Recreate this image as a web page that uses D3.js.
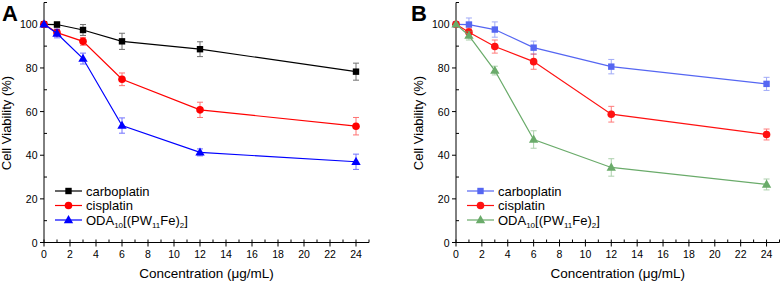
<!DOCTYPE html>
<html>
<head>
<meta charset="utf-8">
<script src="https://cdn.jsdelivr.net/npm/d3@7"></script>
<style>
  body { margin: 0; background: #fff; }
  svg text { font-family: "Liberation Sans", Arial, sans-serif; }
</style>
</head>
<body>
<div id="svgContainer"></div>
<script>
// concentrations (ug/mL)
var conc = [0, 1, 3, 6, 12, 24];

// panel A
var carboA = [100, 99.9, 97.4, 92.2, 88.6, 78.3];
var carboAErr = [0, 1.2, 2.5, 3.7, 3.4, 3.9];
var cisA = [100, 96.2, 92.2, 74.8, 60.8, 53.3];
var cisAErr = [0, 1.5, 1.8, 2.9, 3.5, 4.0];
var odaA = [100, 95.8, 84.3, 53.6, 41.3, 37.0];
var odaAErr = [0, 2.0, 2.5, 3.5, 1.6, 3.5];

// panel B
var carboB = [100, 99.9, 97.6, 89.3, 80.6, 72.7];
var carboBErr = [0, 3.0, 3.5, 3.0, 3.3, 3.0];
var cisB = [100, 96.4, 89.8, 82.9, 58.8, 49.5];
var cisBErr = [0, 1.8, 3.0, 3.5, 3.6, 2.5];
var odaB = [100, 94.8, 78.8, 47.2, 34.4, 26.6];
var odaBErr = [0, 2.0, 2.0, 4.0, 4.0, 2.5];

var seriesNames = ["carboplatin", "cisplatin", "ODA"];
var xTicks = d3.range(0, 25, 2);
var yTicks = [0, 20, 40, 60, 80, 100];

var width = 782, height = 283;
var svg = d3.select("#svgContainer")
    .append("svg")
    .attr("width", width)
    .attr("height", height);

function marker(g, shape, x, y, color) {
    if (shape == "square") {
        g.append("rect")
            .attr("x", x - 3.2).attr("y", y - 3.2)
            .attr("width", 6.4).attr("height", 6.4)
            .attr("fill", color);
    } else if (shape == "circle") {
        g.append("circle")
            .attr("cx", x).attr("cy", y).attr("r", 3.8)
            .attr("fill", color);
    } else {
        g.append("path")
            .attr("d", d3.symbol().type(d3.symbolTriangle).size(38)())
            .attr("transform", "translate(" + x + "," + (y + 0.5) + ")")
            .attr("fill", color);
    }
}

function drawPanel(opt) {
    var xScale = d3.scaleLinear().domain([0, 25]).range([opt.left, opt.right]);
    var yScale = d3.scaleLinear().domain([0, 110]).range([242.5, 2.5]);
    var g = svg.append("g");

    // axes lines
    g.append("line")
        .attr("x1", xScale(0)).attr("x2", xScale(0))
        .attr("y1", yScale(110)).attr("y2", yScale(0))
        .attr("stroke", "#000").attr("stroke-width", 1);
    g.append("line")
        .attr("x1", xScale(0)).attr("x2", xScale(25))
        .attr("y1", yScale(0)).attr("y2", yScale(0))
        .attr("stroke", "#000").attr("stroke-width", 1);

    // y ticks: major outward, minor inward
    d3.range(0, 111, 10).forEach(v => {
        var major = v % 20 == 0;
        g.append("line")
            .attr("x1", major ? xScale(0) - 4 : xScale(0))
            .attr("x2", major ? xScale(0) : xScale(0) + 3)
            .attr("y1", yScale(v)).attr("y2", yScale(v))
            .attr("stroke", "#000");
    });
    yTicks.forEach(v => {
        g.append("text")
            .attr("x", xScale(0) - 6.5)
            .attr("y", yScale(v) + 4)
            .attr("text-anchor", "end")
            .style("font-size", "10.5px")
            .text(v);
    });
    // x ticks
    d3.range(0, 26, 1).forEach(v => {
        var major = v % 2 == 0;
        g.append("line")
            .attr("x1", xScale(v)).attr("x2", xScale(v))
            .attr("y1", major ? yScale(0) + 4 : yScale(0))
            .attr("y2", yScale(0) - 3)
            .attr("stroke", "#000");
    });
    xTicks.forEach(v => {
        g.append("text")
            .attr("x", xScale(v))
            .attr("y", 257.5)
            .attr("text-anchor", "middle")
            .style("font-size", "10.5px")
            .text(v);
    });

    // titles
    g.append("text")
        .attr("transform", "translate(" + (xScale(0) - 33) + "," + 123 + ") rotate(-90)")
        .attr("text-anchor", "middle")
        .style("font-size", "13px")
        .text("Cell Viability (%)");
    g.append("text")
        .attr("x", (xScale(0) + xScale(25)) / 2)
        .attr("y", 278)
        .attr("text-anchor", "middle")
        .style("font-size", "13.5px")
        .html("Concentration (&#956;g/mL)");
    g.append("text")
        .attr("x", opt.labelX)
        .attr("y", 21)
        .style("font-size", "22px")
        .style("font-weight", "bold")
        .text(opt.label);

    // series
    var line = d3.line()
        .x((d, i) => xScale(conc[i]))
        .y(d => yScale(d));
    opt.series.forEach(s => {
        g.append("path")
            .datum(s.values)
            .attr("fill", "none")
            .attr("stroke", s.color)
            .attr("stroke-width", 1.2)
            .attr("d", line);
        s.values.forEach((v, i) => {
            var e = s.err[i];
            if (e > 0) {
                var x = xScale(conc[i]);
                var eg = g.append("g").attr("stroke", s.color).attr("opacity", 0.55).attr("stroke-width", 1);
                eg.append("line").attr("x1", x).attr("x2", x).attr("y1", yScale(v - e)).attr("y2", yScale(v + e));
                eg.append("line").attr("x1", x - 3).attr("x2", x + 3).attr("y1", yScale(v - e)).attr("y2", yScale(v - e));
                eg.append("line").attr("x1", x - 3).attr("x2", x + 3).attr("y1", yScale(v + e)).attr("y2", yScale(v + e));
            }
        });
        s.values.forEach((v, i) => marker(g, s.shape, xScale(conc[i]), yScale(v), s.color));
    });

    // legend
    var legY = [191, 205.5, 220];
    opt.series.forEach((s, i) => {
        var lx = xScale(0) + 11;
        g.append("line")
            .attr("x1", lx).attr("x2", lx + 27)
            .attr("y1", legY[i]).attr("y2", legY[i])
            .attr("stroke", s.color).attr("stroke-width", 1.2);
        marker(g, s.shape, lx + 13.5, legY[i], s.color);
        var t = g.append("text")
            .attr("x", lx + 31)
            .attr("y", legY[i] + 4.8)
            .style("font-size", "13px");
        if (s.name == "ODA") {
            t.append("tspan").text("ODA");
            t.append("tspan").attr("dy", 3).style("font-size", "8px").text("10");
            t.append("tspan").attr("dy", -3).text("[(PW");
            t.append("tspan").attr("dy", 3).style("font-size", "8px").text("11");
            t.append("tspan").attr("dy", -3).text("Fe)");
            t.append("tspan").attr("dy", 3).style("font-size", "8px").text("2");
            t.append("tspan").attr("dy", -3).text("]");
        } else {
            t.text(s.name);
        }
    });
}

drawPanel({
    left: 44, right: 369, label: "A", labelX: 2,
    series: [
        { name: seriesNames[0], values: carboA, err: carboAErr, color: "#000000", shape: "square" },
        { name: seriesNames[1], values: cisA, err: cisAErr, color: "#ff0000", shape: "circle" },
        { name: seriesNames[2], values: odaA, err: odaAErr, color: "#0000ff", shape: "triangle" }
    ]
});
drawPanel({
    left: 456, right: 779.5, label: "B", labelX: 411,
    series: [
        { name: seriesNames[0], values: carboB, err: carboBErr, color: "#5566f2", shape: "square" },
        { name: seriesNames[1], values: cisB, err: cisBErr, color: "#ff1111", shape: "circle" },
        { name: seriesNames[2], values: odaB, err: odaBErr, color: "#6aab6a", shape: "triangle" }
    ]
});
</script>
</body>
</html>
